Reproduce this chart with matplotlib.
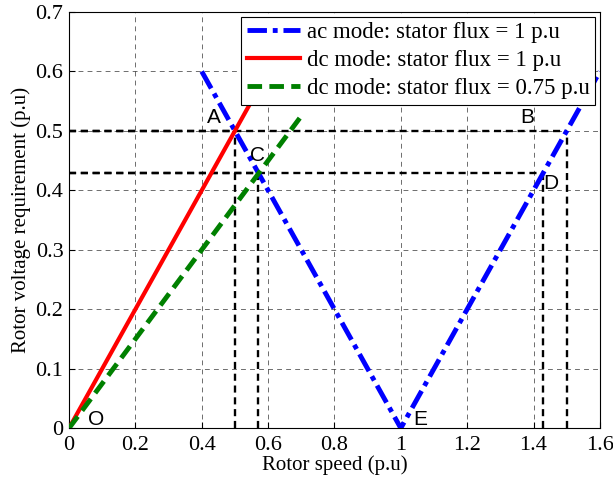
import numpy as np
import matplotlib
matplotlib.use("Agg")
import matplotlib.pyplot as plt

# ac mode: stator flux = 1 p.u
ac_speed = [0.4, 1.0, 1.6]
ac_volt = [0.6, 0.0, 0.6]
# dc mode: stator flux = 1 p.u
dc1_speed = [0.0, 0.6]
dc1_volt = [0.0, 0.6]
# dc mode: stator flux = 0.75 p.u
dc075_speed = [0.0, 0.7]
dc075_volt = [0.0, 0.525]

# operating points
pt_names = ["A", "B", "C", "D"]
pt_speed = [0.5, 1.5, 0.571, 1.429]
pt_volt = [0.5, 0.5, 0.4286, 0.4286]

label_names = ["A", "B", "C", "D", "O", "E"]
label_x = [0.415, 1.36, 0.545, 1.428, 0.057, 1.037]
label_y = [0.513, 0.513, 0.45, 0.403, 0.006, 0.006]

plt.rcParams['font.family'] = ['Liberation Serif', 'DejaVu Serif']

fig = plt.figure(figsize=(6.13, 4.8), dpi=100)
ax = fig.add_axes([0.1126, 0.108, 0.866, 0.867])

ax.grid(True, color='black', linestyle=(0, (7, 6)), linewidth=0.5, alpha=0.8)
ax.set_axisbelow(True)

# guide lines through the operating points
for x, y in zip(pt_speed, pt_volt):
    ax.plot([0, x], [y, y], color='black', linestyle=(0, (3, 2)), linewidth=1.7, zorder=2)
    ax.plot([x, x], [0, y], color='black', linestyle=(0, (3, 2)), linewidth=1.7, zorder=2)

ax.plot(ac_speed, ac_volt, color='blue', linestyle=(0, (4, 1.2, 1, 1.2)), linewidth=3.5,
        label='ac mode: stator flux = 1 p.u', zorder=3)
ax.plot(dc1_speed, dc1_volt, color='red', linestyle='-', linewidth=3,
        label='dc mode: stator flux = 1 p.u', zorder=3)
ax.plot(dc075_speed, dc075_volt, color='green', linestyle=(0, (3, 1.5)), linewidth=3.5,
        label='dc mode: stator flux = 0.75 p.u', zorder=3)

for name, x, y in zip(label_names, label_x, label_y):
    ax.text(x, y, name, fontsize=15, family=['Liberation Sans', 'DejaVu Sans'], zorder=4)

ax.set_xlim(0, 1.6)
ax.set_ylim(0, 0.7)
ax.set_xticks(np.arange(0, 1.61, 0.2))
ax.set_yticks(np.arange(0, 0.71, 0.1))
ax.set_xticklabels(['0', '0.2', '0.4', '0.6', '0.8', '1', '1.2', '1.4', '1.6'])
ax.set_yticklabels(['0', '0.1', '0.2', '0.3', '0.4', '0.5', '0.6', '0.7'])
ax.tick_params(labelsize=16, direction='in', length=4)
ax.tick_params(axis='x', pad=6)
ax.tick_params(axis='y', pad=4)
ax.set_xlabel('Rotor speed (p.u)', fontsize=15, labelpad=0)
ax.set_ylabel('Rotor voltage requirement (p.u)', fontsize=15, labelpad=3)

leg = ax.legend(loc='upper right', fontsize=16.5, fancybox=False, edgecolor='black',
                framealpha=1, handlelength=2.3, borderpad=0.25, labelspacing=0.3,
                handletextpad=0.3, borderaxespad=0.2)
leg.get_frame().set_linewidth(0.8)
leg.set_zorder(10)

fig.savefig('out.png', dpi=100)
